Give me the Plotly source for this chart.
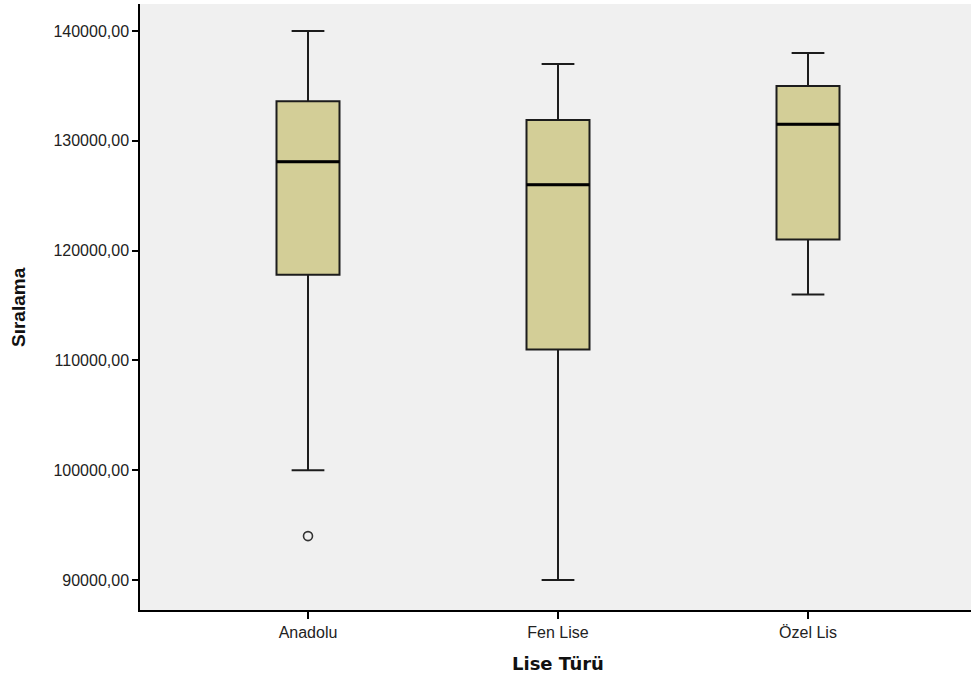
import plotly.graph_objects as go

categories = ["Anadolu", "Fen Lise", "Özel Lis"]
lower_whisker = [100000, 90000, 116000]
q1_values = [117800, 111000, 121000]
median_values = [128100, 126000, 131500]
q3_values = [133600, 131900, 135000]
upper_whisker = [140000, 137000, 138000]
outlier_category = ["Anadolu"]
outlier_values = [94000]
y_tick_values = [90000, 100000, 110000, 120000, 130000, 140000]
y_tick_labels = [f"{v:.2f}".replace(".", ",") for v in y_tick_values]

positions = list(range(len(categories)))
box_width = 0.252
box_fill = "#D3CE97"

fig = go.Figure()
fig.add_trace(go.Box(
    x=positions,
    q1=q1_values, median=median_values, q3=q3_values,
    lowerfence=lower_whisker, upperfence=upper_whisker,
    width=box_width, whiskerwidth=0.52,
    fillcolor=box_fill,
    line=dict(color="#1c1c1c", width=2),
    boxpoints=False, hoverinfo="skip", showlegend=False,
))

# thick black median lines
for i, m in zip(positions, median_values):
    fig.add_trace(go.Scatter(
        x=[i - box_width / 2, i + box_width / 2], y=[m, m],
        mode="lines", line=dict(color="black", width=3),
        showlegend=False, hoverinfo="skip",
    ))

fig.add_trace(go.Scatter(
    x=[categories.index(c) for c in outlier_category], y=outlier_values,
    mode="markers",
    marker=dict(symbol="circle-open", size=9, color="#333333", line=dict(width=1.6)),
    showlegend=False, hoverinfo="skip",
))

fig.update_layout(
    width=971, height=677,
    margin=dict(l=140, r=0, t=4, b=67),
    plot_bgcolor="#F0F0F0", paper_bgcolor="white",
    font=dict(family="Liberation Sans, Arial, sans-serif", size=16, color="#222222"),
    xaxis=dict(
        range=[-0.672, 2.652], tickvals=positions, ticktext=categories,
        showgrid=False, zeroline=False,
        showline=True, linecolor="black", linewidth=1.5,
        ticks="outside", ticklen=7, tickwidth=1.5, tickcolor="black",
        tickfont=dict(size=16),
    ),
    yaxis=dict(
        range=[87268, 142459], tickvals=y_tick_values, ticktext=y_tick_labels,
        showgrid=False, zeroline=False,
        showline=True, linecolor="black", linewidth=1.5,
        ticks="outside", ticklen=6, tickwidth=1.5, tickcolor="black",
        tickfont=dict(size=16),
    ),
    annotations=[
        dict(text="<b>Lise Türü</b>", x=1, xref="x", y=0, yref="paper",
             yanchor="middle", xanchor="center", yshift=-53, showarrow=False,
             font=dict(family="DejaVu Sans, Verdana, sans-serif", size=18, color="#111111")),
        dict(text="<b>Sıralama</b>", x=0, xref="paper", y=0.5, yref="paper",
             xanchor="center", yanchor="middle", xshift=-122, textangle=-90, showarrow=False,
             font=dict(family="Liberation Sans, Arial, sans-serif", size=19, color="#111111")),
    ],
)

fig.write_html("out.html", config={"displayModeBar": False},
               post_script="document.body.style.margin='0';")
